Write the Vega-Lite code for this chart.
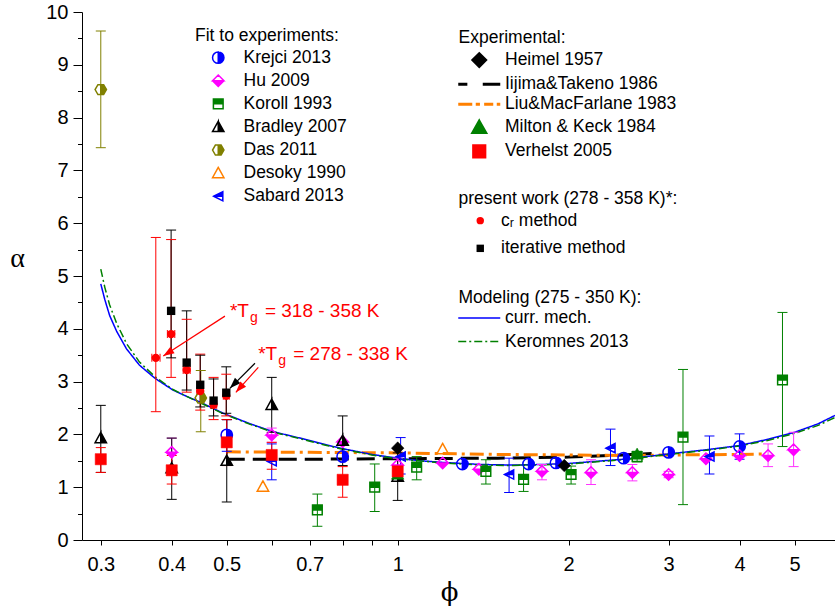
{
  "$schema": "https://vega.github.io/schema/vega-lite/v6.json",
  "width": 753,
  "height": 528,
  "autosize": {"type": "none"},
  "padding": {"left": 82, "top": 12, "right": 0, "bottom": 68},
  "background": "white",
  "config": {
    "view": {"stroke": null},
    "font": "Liberation Sans",
    "legend": {
      "titleFont": "Liberation Sans", "titleFontSize": 17.5, "titleFontWeight": "normal", "titleColor": "black",
      "labelFont": "Liberation Sans", "labelFontSize": 17.5, "labelColor": "black",
      "padding": 0, "labelLimit": 0, "titleLimit": 0
    }
  },
  "datasets": {
    "pts": [
      {"src": "Krejci 2013", "phi": 0.5, "a": 1.99, "lo": 1.68, "hi": 2.28},
      {"src": "Krejci 2013", "phi": 0.8, "a": 1.58},
      {"src": "Krejci 2013", "phi": 1.3, "a": 1.44},
      {"src": "Krejci 2013", "phi": 1.7, "a": 1.44},
      {"src": "Krejci 2013", "phi": 1.9, "a": 1.46},
      {"src": "Krejci 2013", "phi": 2.5, "a": 1.55},
      {"src": "Krejci 2013", "phi": 3.0, "a": 1.66},
      {"src": "Krejci 2013", "phi": 4.0, "a": 1.77, "lo": 1.53, "hi": 2.01},
      {"src": "Hu 2009", "phi": 0.4, "a": 1.66, "lo": 1.40, "hi": 1.93},
      {"src": "Hu 2009", "phi": 0.6, "a": 1.99, "lo": 1.85, "hi": 2.12},
      {"src": "Hu 2009", "phi": 0.8, "a": 1.86},
      {"src": "Hu 2009", "phi": 1.0, "a": 1.42, "lo": 1.30, "hi": 1.55},
      {"src": "Hu 2009", "phi": 1.2, "a": 1.46},
      {"src": "Hu 2009", "phi": 1.39, "a": 1.34},
      {"src": "Hu 2009", "phi": 1.795, "a": 1.30, "lo": 1.14, "hi": 1.43},
      {"src": "Hu 2009", "phi": 2.19, "a": 1.28, "lo": 1.05, "hi": 1.52},
      {"src": "Hu 2009", "phi": 2.59, "a": 1.28, "lo": 1.12, "hi": 1.43},
      {"src": "Hu 2009", "phi": 3.0, "a": 1.24, "lo": 1.18, "hi": 1.30},
      {"src": "Hu 2009", "phi": 3.49, "a": 1.54},
      {"src": "Hu 2009", "phi": 4.0, "a": 1.60},
      {"src": "Hu 2009", "phi": 4.49, "a": 1.60, "lo": 1.39, "hi": 1.82},
      {"src": "Hu 2009", "phi": 4.98, "a": 1.71, "lo": 1.39, "hi": 2.04},
      {"src": "Koroll 1993", "phi": 0.722, "a": 0.57, "lo": 0.26, "hi": 0.87},
      {"src": "Koroll 1993", "phi": 0.911, "a": 1.0, "lo": 0.54, "hi": 1.44},
      {"src": "Koroll 1993", "phi": 1.08, "a": 1.38, "lo": 1.14, "hi": 1.58},
      {"src": "Koroll 1993", "phi": 1.43, "a": 1.30, "lo": 1.06, "hi": 1.52},
      {"src": "Koroll 1993", "phi": 1.666, "a": 1.15, "lo": 0.92, "hi": 1.42},
      {"src": "Koroll 1993", "phi": 2.02, "a": 1.24, "lo": 1.06, "hi": 1.40},
      {"src": "Koroll 1993", "phi": 2.64, "a": 1.58, "lo": 1.48, "hi": 1.68},
      {"src": "Koroll 1993", "phi": 3.18, "a": 1.95, "lo": 0.67, "hi": 3.23},
      {"src": "Koroll 1993", "phi": 4.76, "a": 3.03, "lo": 1.77, "hi": 4.31},
      {"src": "Bradley 2007", "phi": 0.3, "a": 1.93, "lo": 1.28, "hi": 2.55},
      {"src": "Bradley 2007", "phi": 0.4, "a": 1.36, "lo": 0.77, "hi": 1.93},
      {"src": "Bradley 2007", "phi": 0.5, "a": 1.50, "lo": 0.72, "hi": 2.28},
      {"src": "Bradley 2007", "phi": 0.6, "a": 2.56, "lo": 2.04, "hi": 3.08},
      {"src": "Bradley 2007", "phi": 0.8, "a": 1.88, "lo": 1.41, "hi": 2.35},
      {"src": "Bradley 2007", "phi": 1.0, "a": 1.20, "lo": 0.75, "hi": 1.65},
      {"src": "Das 2011", "phi": 0.3, "a": 8.53, "lo": 7.43, "hi": 9.64},
      {"src": "Das 2011", "phi": 0.45, "a": 2.69, "lo": 2.05, "hi": 3.21},
      {"src": "Desoky 1990", "phi": 0.579, "a": 1.01},
      {"src": "Desoky 1990", "phi": 1.2, "a": 1.72},
      {"src": "Sabard 2013", "phi": 0.6, "a": 1.49, "lo": 1.14, "hi": 1.82},
      {"src": "Sabard 2013", "phi": 1.012, "a": 1.58, "lo": 1.25, "hi": 1.94},
      {"src": "Sabard 2013", "phi": 1.571, "a": 1.24, "lo": 0.90, "hi": 1.55},
      {"src": "Sabard 2013", "phi": 2.37, "a": 1.74, "lo": 1.41, "hi": 2.10},
      {"src": "Sabard 2013", "phi": 3.54, "a": 1.58, "lo": 1.25, "hi": 1.97},
      {"src": "Heimel 1957", "phi": 1.0, "a": 1.74},
      {"src": "Heimel 1957", "phi": 1.965, "a": 1.41},
      {"src": "Milton & Keck 1984", "phi": 1.0, "a": 1.25},
      {"src": "Milton & Keck 1984", "phi": 2.64, "a": 1.63},
      {"src": "Verhelst 2005", "phi": 0.3, "a": 1.53, "lo": 1.28, "hi": 1.75},
      {"src": "Verhelst 2005", "phi": 0.4, "a": 1.32, "lo": 1.06, "hi": 1.60},
      {"src": "Verhelst 2005", "phi": 0.5, "a": 1.85, "lo": 1.41, "hi": 2.28},
      {"src": "Verhelst 2005", "phi": 0.6, "a": 1.61, "lo": 1.34, "hi": 1.85},
      {"src": "Verhelst 2005", "phi": 0.8, "a": 1.14, "lo": 0.81, "hi": 1.39},
      {"src": "Verhelst 2005", "phi": 1.0, "a": 1.30},
      {"src": "cᵣ method", "phi": 0.375, "a": 3.45, "lo": 2.43, "hi": 5.73, "xlo": 0.369, "xhi": 0.3815},
      {"src": "cᵣ method", "phi": 0.399, "a": 3.90, "lo": 3.08, "hi": 5.69, "xlo": 0.393, "xhi": 0.405},
      {"src": "cᵣ method", "phi": 0.425, "a": 3.22, "lo": 2.80, "hi": 4.18, "xlo": 0.419, "xhi": 0.431},
      {"src": "cᵣ method", "phi": 0.449, "a": 2.82, "lo": 2.46, "hi": 3.52, "xlo": 0.443, "xhi": 0.455},
      {"src": "cᵣ method", "phi": 0.474, "a": 2.56, "lo": 2.28, "hi": 3.08, "xlo": 0.468, "xhi": 0.480},
      {"src": "cᵣ method", "phi": 0.499, "a": 2.73, "lo": 2.35, "hi": 3.14, "xlo": 0.493, "xhi": 0.505},
      {"src": "iterative method", "phi": 0.399, "a": 4.34, "lo": 3.45, "hi": 5.87},
      {"src": "iterative method", "phi": 0.425, "a": 3.36, "lo": 2.84, "hi": 4.34},
      {"src": "iterative method", "phi": 0.449, "a": 2.94, "lo": 2.52, "hi": 3.50},
      {"src": "iterative method", "phi": 0.474, "a": 2.64, "lo": 2.35, "hi": 3.05},
      {"src": "iterative method", "phi": 0.499, "a": 2.79, "lo": 2.40, "hi": 3.28}
    ],
    "explines": [
      {"src": "Iijima&Takeno 1986", "phi": 0.5, "a": 1.53},
      {"src": "Iijima&Takeno 1986", "phi": 0.7, "a": 1.53},
      {"src": "Iijima&Takeno 1986", "phi": 1.0, "a": 1.54},
      {"src": "Iijima&Takeno 1986", "phi": 1.5, "a": 1.55},
      {"src": "Iijima&Takeno 1986", "phi": 2.0, "a": 1.57},
      {"src": "Iijima&Takeno 1986", "phi": 2.5, "a": 1.61},
      {"src": "Iijima&Takeno 1986", "phi": 2.8, "a": 1.64},
      {"src": "Liu&MacFarlane 1983", "phi": 0.5, "a": 1.67},
      {"src": "Liu&MacFarlane 1983", "phi": 0.7, "a": 1.66},
      {"src": "Liu&MacFarlane 1983", "phi": 1.0, "a": 1.65},
      {"src": "Liu&MacFarlane 1983", "phi": 1.5, "a": 1.62},
      {"src": "Liu&MacFarlane 1983", "phi": 2.0, "a": 1.61},
      {"src": "Liu&MacFarlane 1983", "phi": 2.5, "a": 1.60},
      {"src": "Liu&MacFarlane 1983", "phi": 3.0, "a": 1.61},
      {"src": "Liu&MacFarlane 1983", "phi": 4.0, "a": 1.62},
      {"src": "Liu&MacFarlane 1983", "phi": 4.45, "a": 1.63}
    ],
    "curves": [
      {"src": "curr. mech.", "phi": 0.300, "a": 4.85},
      {"src": "curr. mech.", "phi": 0.305, "a": 4.55},
      {"src": "curr. mech.", "phi": 0.311, "a": 4.25},
      {"src": "curr. mech.", "phi": 0.320, "a": 3.95},
      {"src": "curr. mech.", "phi": 0.333, "a": 3.62},
      {"src": "curr. mech.", "phi": 0.351, "a": 3.31},
      {"src": "curr. mech.", "phi": 0.374, "a": 3.06},
      {"src": "curr. mech.", "phi": 0.402, "a": 2.84},
      {"src": "curr. mech.", "phi": 0.425, "a": 2.72},
      {"src": "curr. mech.", "phi": 0.449, "a": 2.61},
      {"src": "curr. mech.", "phi": 0.493, "a": 2.40},
      {"src": "curr. mech.", "phi": 0.550, "a": 2.20},
      {"src": "curr. mech.", "phi": 0.604, "a": 2.05},
      {"src": "curr. mech.", "phi": 0.673, "a": 1.93},
      {"src": "curr. mech.", "phi": 0.750, "a": 1.80},
      {"src": "curr. mech.", "phi": 0.800, "a": 1.73},
      {"src": "curr. mech.", "phi": 0.900, "a": 1.62},
      {"src": "curr. mech.", "phi": 1.000, "a": 1.55},
      {"src": "curr. mech.", "phi": 1.100, "a": 1.50},
      {"src": "curr. mech.", "phi": 1.200, "a": 1.47},
      {"src": "curr. mech.", "phi": 1.400, "a": 1.43},
      {"src": "curr. mech.", "phi": 1.600, "a": 1.42},
      {"src": "curr. mech.", "phi": 1.800, "a": 1.43},
      {"src": "curr. mech.", "phi": 2.000, "a": 1.45},
      {"src": "curr. mech.", "phi": 2.500, "a": 1.53},
      {"src": "curr. mech.", "phi": 3.000, "a": 1.63},
      {"src": "curr. mech.", "phi": 3.500, "a": 1.71},
      {"src": "curr. mech.", "phi": 4.000, "a": 1.79},
      {"src": "curr. mech.", "phi": 4.500, "a": 1.91},
      {"src": "curr. mech.", "phi": 5.000, "a": 2.04},
      {"src": "curr. mech.", "phi": 5.500, "a": 2.20},
      {"src": "curr. mech.", "phi": 5.890, "a": 2.36},
      {"src": "Keromnes 2013", "phi": 0.300, "a": 5.13},
      {"src": "Keromnes 2013", "phi": 0.305, "a": 4.78},
      {"src": "Keromnes 2013", "phi": 0.311, "a": 4.45},
      {"src": "Keromnes 2013", "phi": 0.320, "a": 4.10},
      {"src": "Keromnes 2013", "phi": 0.333, "a": 3.72},
      {"src": "Keromnes 2013", "phi": 0.351, "a": 3.37},
      {"src": "Keromnes 2013", "phi": 0.374, "a": 3.09},
      {"src": "Keromnes 2013", "phi": 0.402, "a": 2.85},
      {"src": "Keromnes 2013", "phi": 0.425, "a": 2.72},
      {"src": "Keromnes 2013", "phi": 0.449, "a": 2.60},
      {"src": "Keromnes 2013", "phi": 0.493, "a": 2.39},
      {"src": "Keromnes 2013", "phi": 0.550, "a": 2.19},
      {"src": "Keromnes 2013", "phi": 0.604, "a": 2.04},
      {"src": "Keromnes 2013", "phi": 0.673, "a": 1.92},
      {"src": "Keromnes 2013", "phi": 0.750, "a": 1.79},
      {"src": "Keromnes 2013", "phi": 0.800, "a": 1.72},
      {"src": "Keromnes 2013", "phi": 0.900, "a": 1.61},
      {"src": "Keromnes 2013", "phi": 1.000, "a": 1.54},
      {"src": "Keromnes 2013", "phi": 1.200, "a": 1.46},
      {"src": "Keromnes 2013", "phi": 1.400, "a": 1.42},
      {"src": "Keromnes 2013", "phi": 1.600, "a": 1.41},
      {"src": "Keromnes 2013", "phi": 2.000, "a": 1.44},
      {"src": "Keromnes 2013", "phi": 2.500, "a": 1.52},
      {"src": "Keromnes 2013", "phi": 3.000, "a": 1.62},
      {"src": "Keromnes 2013", "phi": 3.500, "a": 1.70},
      {"src": "Keromnes 2013", "phi": 4.000, "a": 1.78},
      {"src": "Keromnes 2013", "phi": 4.500, "a": 1.89},
      {"src": "Keromnes 2013", "phi": 5.000, "a": 2.02},
      {"src": "Keromnes 2013", "phi": 5.500, "a": 2.17},
      {"src": "Keromnes 2013", "phi": 5.890, "a": 2.32}
    ],
    "arrows": [
      {"id": "upper", "phi": 0.4963, "a": 4.24, "phi2": 0.3865, "a2": 3.485},
      {"id": "lower black", "phi": 0.5606, "a": 3.347, "phi2": 0.5064, "a2": 2.873},
      {"id": "lower red", "phi": 0.5682, "a": 3.271, "phi2": 0.5188, "a2": 2.797}
    ],
    "notes": [
      {"id": "upper", "phi": 0.5064, "a": 4.229, "range": "= 318 - 358 K"},
      {"id": "lower", "phi": 0.568, "a": 3.409, "range": "= 278 - 338 K"}
    ]
  },
  "encoding": {
    "x": {
      "field": "phi", "type": "quantitative",
      "scale": {"type": "log", "domain": [0.278, 5.89], "nice": false},
      "axis": {
        "values": [0.3, 0.4, 0.5, 0.6, 0.7, 0.8, 0.9, 1, 2, 3, 4, 5],
        "format": "~g",
        "labelExpr": "datum.value == 0.6 || datum.value == 0.8 || datum.value == 0.9 ? '' : datum.label",
        "grid": false, "tickSize": 5, "tickColor": "black", "domainColor": "black",
        "labelFont": "Liberation Sans", "labelFontSize": 20, "labelColor": "black", "labelPadding": 9, "labelFlush": false,
        "labelOverlap": false,
        "title": "ϕ", "titleFont": "DejaVu Serif", "titleFontSize": 26, "titleFontWeight": "normal", "titleColor": "black",
        "titleX": 367, "titleY": 52, "titleAlign": "center", "titleBaseline": "middle"
      }
    },
    "y": {
      "field": "a", "type": "quantitative",
      "scale": {"domain": [0, 10], "nice": false, "zero": false},
      "axis": {
        "values": [0, 0.5, 1, 1.5, 2, 2.5, 3, 3.5, 4, 4.5, 5, 5.5, 6, 6.5, 7, 7.5, 8, 8.5, 9, 9.5, 10],
        "format": "~g",
        "labelExpr": "datum.value % 1 === 0 ? datum.label : ''",
        "tickSize": {"condition": {"test": "datum.value % 1 === 0", "value": 9}, "value": 4.5},
        "grid": false, "tickColor": "black", "domainColor": "black",
        "labelFont": "Liberation Sans", "labelFontSize": 20, "labelColor": "black", "labelPadding": 5, "labelFlush": false,
        "labelOverlap": false,
        "title": "α", "titleFont": "Liberation Serif", "titleFontSize": 28, "titleFontWeight": "normal", "titleColor": "black",
        "titleAngle": 0, "titleX": -65, "titleY": 246, "titleAlign": "center", "titleBaseline": "middle"
      }
    }
  },
  "layer": [
    {
      "data": {"name": "explines"},
      "mark": {"type": "line", "strokeWidth": 3},
      "encoding": {
        "stroke": {"field": "src", "type": "nominal", "scale": {"domain": ["Iijima&Takeno 1986", "Liu&MacFarlane 1983"], "range": ["#000000", "#ff8000"]}, "legend": null},
        "strokeDash": {"field": "src", "type": "nominal", "scale": {"domain": ["Iijima&Takeno 1986", "Liu&MacFarlane 1983"], "range": [[18, 8], [14, 5, 3, 5]]}, "legend": null}
      }
    },
    {
      "data": {"name": "curves"},
      "mark": {"type": "line", "strokeWidth": 1.5},
      "encoding": {
        "stroke": {"field": "src", "type": "nominal", "scale": {"domain": ["curr. mech.", "Keromnes 2013"], "range": ["#0000ff", "#008000"]}},
        "strokeDash": {"field": "src", "type": "nominal", "scale": {"domain": ["curr. mech.", "Keromnes 2013"], "range": [[1, 0], [8, 3, 2, 3]]},
          "legend": {"title": "Modeling (275 - 350 K):", "orient": "none", "legendX": 376.5, "legendY": 277, "symbolType": "M-3,0 L3,0", "symbolSize": 196, "symbolStrokeWidth": 1.5, "symbolOffset": 12, "labelOffset": 17, "rowPadding": 4.5, "titlePadding": 2.8}}
      }
    },
    {
      "data": {"name": "pts"},
      "transform": [{"filter": "datum.lo != null"}],
      "mark": {"type": "rule", "strokeWidth": 1, "opacity": 1},
      "encoding": {
        "y": {"field": "lo", "type": "quantitative"},
        "y2": {"field": "hi"},
        "color": {"field": "src", "type": "nominal", "legend": null, "scale": {
          "domain": ["Krejci 2013", "Hu 2009", "Koroll 1993", "Bradley 2007", "Das 2011", "Desoky 1990", "Sabard 2013", "Heimel 1957", "Milton & Keck 1984", "Verhelst 2005", "cᵣ method", "iterative method"],
          "range": ["#0000ff", "#ff33ff", "#008000", "#000000", "#808000", "#ff8000", "#0000ff", "#000000", "#008000", "#ff0000", "#ff0000", "#000000"]}}
      }
    },
    {
      "data": {"name": "pts"},
      "transform": [{"filter": "datum.lo != null"}],
      "mark": {"type": "tick", "orient": "horizontal", "size": 10, "thickness": 1, "opacity": 1},
      "encoding": {
        "y": {"field": "lo", "type": "quantitative"},
        "color": {"field": "src", "type": "nominal", "legend": null, "scale": {
          "domain": ["Krejci 2013", "Hu 2009", "Koroll 1993", "Bradley 2007", "Das 2011", "Desoky 1990", "Sabard 2013", "Heimel 1957", "Milton & Keck 1984", "Verhelst 2005", "cᵣ method", "iterative method"],
          "range": ["#0000ff", "#ff33ff", "#008000", "#000000", "#808000", "#ff8000", "#0000ff", "#000000", "#008000", "#ff0000", "#ff0000", "#000000"]}}
      }
    },
    {
      "data": {"name": "pts"},
      "transform": [{"filter": "datum.hi != null"}],
      "mark": {"type": "tick", "orient": "horizontal", "size": 10, "thickness": 1, "opacity": 1},
      "encoding": {
        "y": {"field": "hi", "type": "quantitative"},
        "color": {"field": "src", "type": "nominal", "legend": null, "scale": {
          "domain": ["Krejci 2013", "Hu 2009", "Koroll 1993", "Bradley 2007", "Das 2011", "Desoky 1990", "Sabard 2013", "Heimel 1957", "Milton & Keck 1984", "Verhelst 2005", "cᵣ method", "iterative method"],
          "range": ["#0000ff", "#ff33ff", "#008000", "#000000", "#808000", "#ff8000", "#0000ff", "#000000", "#008000", "#ff0000", "#ff0000", "#000000"]}}
      }
    },
    {
      "data": {"name": "pts"},
      "transform": [{"filter": "datum.xlo != null"}],
      "mark": {"type": "rule", "strokeWidth": 1, "color": "#ff0000", "opacity": 1},
      "encoding": {
        "x": {"field": "xlo", "type": "quantitative"},
        "x2": {"field": "xhi"}
      }
    },
    {
      "data": {"name": "pts"},
      "transform": [{"filter": "datum.xlo != null"}],
      "mark": {"type": "tick", "orient": "vertical", "size": 8, "thickness": 1, "color": "#ff0000", "opacity": 1},
      "encoding": {"x": {"field": "xlo", "type": "quantitative"}}
    },
    {
      "data": {"name": "pts"},
      "transform": [{"filter": "datum.xhi != null"}],
      "mark": {"type": "tick", "orient": "vertical", "size": 8, "thickness": 1, "color": "#ff0000", "opacity": 1},
      "encoding": {"x": {"field": "xhi", "type": "quantitative"}}
    },
    {
      "data": {"name": "pts"},
      "transform": [{"filter": {"field": "src", "oneOf": ["Krejci 2013", "Hu 2009", "Koroll 1993", "Bradley 2007", "Das 2011", "Desoky 1990", "Sabard 2013"]}}],
      "mark": {"type": "point", "filled": true, "size": 130, "strokeWidth": 1.5, "opacity": 1},
      "encoding": {
        "fill": {"field": "src", "type": "nominal", "scale": {
          "domain": ["Krejci 2013", "Hu 2009", "Koroll 1993", "Bradley 2007", "Das 2011", "Desoky 1990", "Sabard 2013"],
          "range": ["#0000ff", "#ff00ff", "#008000", "#000000", "#808000", "#ff8000", "#0000ff"]}},
        "stroke": {"field": "src", "type": "nominal", "scale": {
          "domain": ["Krejci 2013", "Hu 2009", "Koroll 1993", "Bradley 2007", "Das 2011", "Desoky 1990", "Sabard 2013"],
          "range": ["#0000ff", "#ff00ff", "#008000", "#000000", "#808000", "#ff8000", "#0000ff"]}},
        "shape": {"field": "src", "type": "nominal", "scale": {
          "domain": ["Krejci 2013", "Hu 2009", "Koroll 1993", "Bradley 2007", "Das 2011", "Desoky 1990", "Sabard 2013"],
          "range": [
            "M0,-1 A1,1 0 1,1 0,1 A1,1 0 1,1 0,-1 Z M0,-1 A1,1 0 0,0 0,1 Z",
            "M0,-1 L1,0 L0,1 L-1,0 Z M0,-1 L-1,0 L1,0 Z",
            "M-0.85,-0.85 L0.85,-0.85 L0.85,0.85 L-0.85,0.85 Z M-0.85,0 L-0.85,0.85 L0.85,0.85 L0.85,0 Z",
            "M0,-1 L1,0.8 L-1,0.8 Z M0,-1 L-1,0.8 L0,0.8 Z",
            "M-1,0 L-0.5,-0.87 L0.5,-0.87 L1,0 L0.5,0.87 L-0.5,0.87 Z M0,-0.87 L-0.5,-0.87 L-1,0 L-0.5,0.87 L0,0.87 Z",
            "M0,-1 L1,0.8 L-1,0.8 Z M0,-1 L-1,0.8 L1,0.8 Z",
            "M-0.8,0 L0.8,-0.8 L0.8,0.8 Z M-0.8,0 L0.8,0.8 L0.8,0 Z"
          ]},
          "legend": {"title": "Fit to experiments:", "orient": "none", "legendX": 113, "legendY": 15, "symbolSize": 130, "symbolStrokeWidth": 1.5, "symbolOffset": 14.5, "labelOffset": 16.5, "rowPadding": 4.1, "titlePadding": 4.4}}
      }
    },
    {
      "data": {"name": "pts"},
      "transform": [{"filter": {"field": "src", "oneOf": ["Heimel 1957", "Milton & Keck 1984", "Verhelst 2005"]}}],
      "mark": {"type": "point", "filled": true, "size": 196, "strokeWidth": 0.5, "opacity": 1},
      "encoding": {
        "fill": {"field": "src", "type": "nominal", "scale": {
          "domain": ["Heimel 1957", "Iijima&Takeno 1986", "Liu&MacFarlane 1983", "Milton & Keck 1984", "Verhelst 2005"],
          "range": ["#000000", "#000000", "#ff8000", "#008000", "#ff0000"]}},
        "stroke": {"field": "src", "type": "nominal", "scale": {
          "domain": ["Heimel 1957", "Iijima&Takeno 1986", "Liu&MacFarlane 1983", "Milton & Keck 1984", "Verhelst 2005"],
          "range": ["#000000", "#000000", "#ff8000", "#008000", "#ff0000"]}},
        "shape": {"field": "src", "type": "nominal", "scale": {
          "domain": ["Heimel 1957", "Iijima&Takeno 1986", "Liu&MacFarlane 1983", "Milton & Keck 1984", "Verhelst 2005"],
          "range": [
            "M0,-0.9 L0.9,0 L0,0.9 L-0.9,0 Z",
            "M-3,0 L-1.7,0 M0.5,0 L3,0",
            "M-3,0 L-1,0 M-0.5,0 L0.1,0 M0.7,0 L2,0 M2.5,0 L3,0",
            "M0,-0.85 L0.9,0.75 L-0.9,0.75 Z",
            "M-0.8,-0.8 L0.8,-0.8 L0.8,0.8 L-0.8,0.8 Z"
          ]},
          "legend": {"title": "Experimental:", "orient": "none", "legendX": 376.5, "legendY": 17.4, "symbolSize": 196, "symbolStrokeWidth": 3, "symbolOffset": 12, "labelOffset": 17, "rowPadding": 1.1, "titlePadding": 4.4}}
      }
    },
    {
      "data": {"name": "pts"},
      "transform": [{"filter": {"field": "src", "oneOf": ["cᵣ method", "iterative method"]}}],
      "mark": {"type": "point", "filled": true, "size": 70, "opacity": 1},
      "encoding": {
        "fill": {"field": "src", "type": "nominal", "scale": {"domain": ["cᵣ method", "iterative method"], "range": ["#ff0000", "#000000"]}},
        "shape": {"field": "src", "type": "nominal", "scale": {"domain": ["cᵣ method", "iterative method"], "range": ["circle", "square"]},
          "legend": {"title": "present work (278 - 358 K)*:", "orient": "none", "legendX": 376.5, "legendY": 178.4, "symbolSize": 55, "symbolOffset": 13, "labelOffset": 12, "rowPadding": 8.7, "titlePadding": 4}}
      }
    },
    {
      "data": {"name": "arrows"},
      "mark": {"type": "rule", "strokeWidth": 1.2},
      "encoding": {
        "x2": {"field": "phi2"},
        "y2": {"field": "a2"},
        "color": {"field": "id", "type": "nominal", "legend": null, "scale": {"domain": ["upper", "lower black", "lower red"], "range": ["#ff0000", "#000000", "#ff0000"]}}
      }
    },
    {
      "data": {"name": "arrows"},
      "transform": [{"filter": "datum.id === 'upper'"}],
      "mark": {"type": "point", "shape": "M0,0 L0.35,1 L-0.35,1 Z", "filled": true, "color": "#ff0000", "size": 484, "angle": 237, "opacity": 1},
      "encoding": {"x": {"field": "phi2", "type": "quantitative"}, "y": {"field": "a2", "type": "quantitative"}}
    },
    {
      "data": {"name": "arrows"},
      "transform": [{"filter": "datum.id === 'lower black'"}],
      "mark": {"type": "point", "shape": "M0,0 L0.35,1 L-0.35,1 Z", "filled": true, "color": "#000000", "size": 484, "angle": 225, "opacity": 1},
      "encoding": {"x": {"field": "phi2", "type": "quantitative"}, "y": {"field": "a2", "type": "quantitative"}}
    },
    {
      "data": {"name": "arrows"},
      "transform": [{"filter": "datum.id === 'lower red'"}],
      "mark": {"type": "point", "shape": "M0,0 L0.35,1 L-0.35,1 Z", "filled": true, "color": "#ff0000", "size": 484, "angle": 222, "opacity": 1},
      "encoding": {"x": {"field": "phi2", "type": "quantitative"}, "y": {"field": "a2", "type": "quantitative"}}
    },
    {
      "data": {"name": "notes"},
      "mark": {"type": "text", "text": "*T", "align": "left", "baseline": "alphabetic", "fontSize": 19, "color": "#ff0000", "font": "Liberation Sans"}
    },
    {
      "data": {"name": "notes"},
      "mark": {"type": "text", "text": "g", "align": "left", "baseline": "alphabetic", "fontSize": 14, "dx": 20, "dy": 5, "color": "#ff0000", "font": "Liberation Sans"}
    },
    {
      "data": {"name": "notes"},
      "mark": {"type": "text", "align": "left", "baseline": "alphabetic", "fontSize": 19, "dx": 35, "color": "#ff0000", "font": "Liberation Sans"},
      "encoding": {"text": {"field": "range", "type": "nominal"}}
    }
  ],
  "resolve": {"scale": {"color": "independent", "fill": "independent", "stroke": "independent", "shape": "independent", "strokeDash": "independent"}}
}
